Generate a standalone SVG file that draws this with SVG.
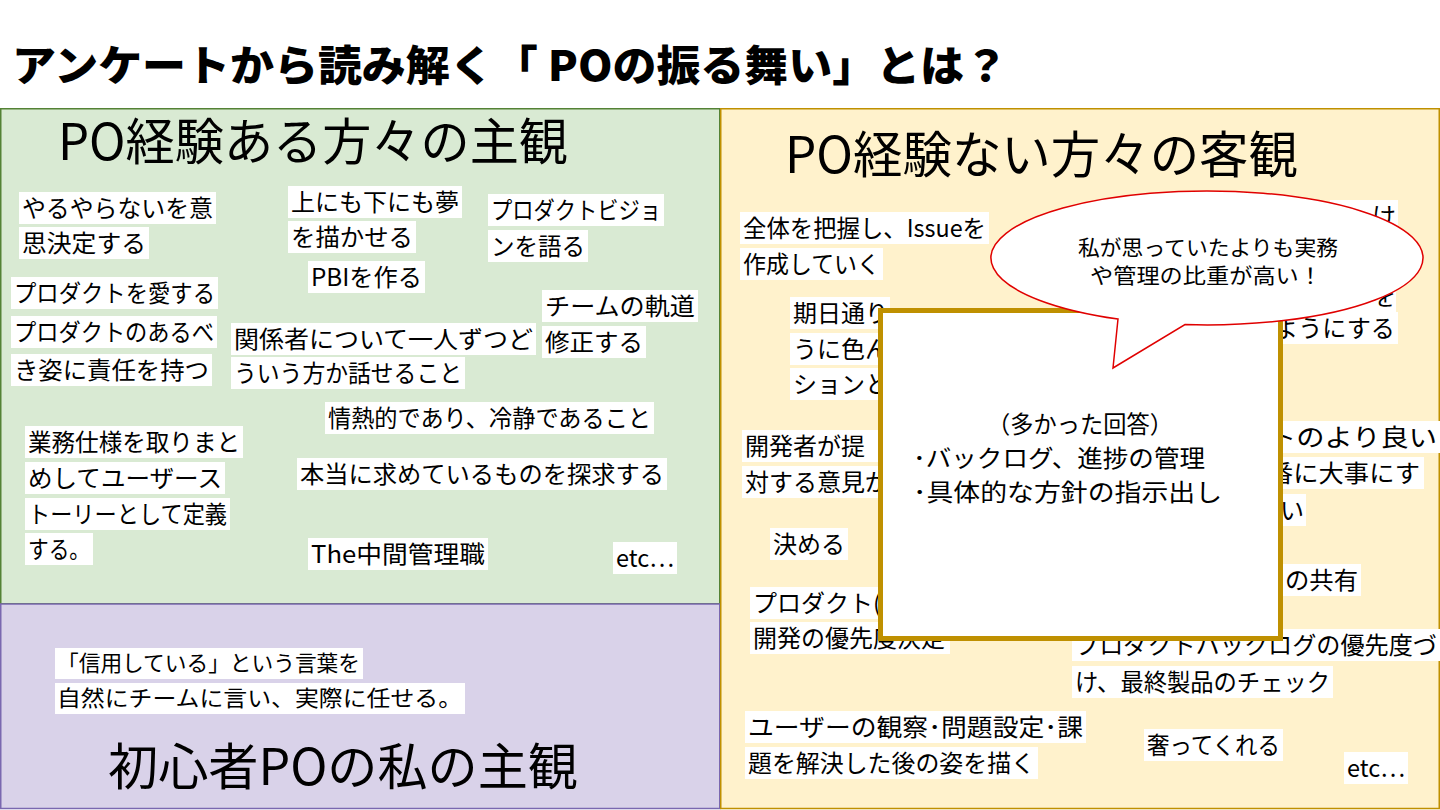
<svg xmlns="http://www.w3.org/2000/svg" width="1440" height="810" viewBox="0 0 1440 810">
<style>
.t{font-family:"Noto Sans CJK JP","Liberation Sans",sans-serif;font-size:24px;fill:#000}
.s{font-size:22px}
.h{font-family:"Noto Sans CJK JP","Liberation Sans",sans-serif;font-size:50px;fill:#000}
.hl{fill:#fff}
.bt{font-family:"Noto Sans CJK JP","Liberation Sans",sans-serif;font-size:24px;fill:#000}
.qt{font-family:"Noto Sans CJK JP","Liberation Sans",sans-serif;font-size:21px;fill:#000}
</style>
<rect x="0" y="0" width="1440" height="810" fill="#fff"/>
<g id="title">
<text x="12" y="81" font-family="Noto Sans CJK JP, Liberation Sans, sans-serif" font-size="42" font-weight="900" textLength="996" lengthAdjust="spacingAndGlyphs">アンケートから読み解く「 POの振る舞い」とは？</text>
</g>
<g id="panel-experienced">
<rect x="0.75" y="108.75" width="719" height="495" fill="#d9ead3" stroke="#548235" stroke-width="1.5"/>
<text class="h" x="58" y="160" textLength="510" lengthAdjust="spacingAndGlyphs">PO経験ある方々の主観</text>
</g>
<g id="panel-beginner">
<rect x="0.75" y="604" width="719" height="204.5" fill="#d9d2e9" stroke="#7a68b0" stroke-width="1.5"/>
<text class="h" x="108" y="785" textLength="470" lengthAdjust="spacingAndGlyphs">初心者POの私の主観</text>
</g>
<g id="panel-inexperienced">
<rect x="720.75" y="108.75" width="718.5" height="699.75" fill="#fff2cc" stroke="#bf9000" stroke-width="1.5"/>
<text class="h" x="785" y="173" textLength="513" lengthAdjust="spacingAndGlyphs">PO経験ない方々の客観</text>
</g>

<g id="left-items">
<g id="l1"><rect class="hl" x="19" y="192" width="197" height="32"/><rect class="hl" x="19" y="227" width="130" height="32"/>
<text class="t" x="22" y="217" textLength="191" lengthAdjust="spacingAndGlyphs">やるやらないを意</text>
<text class="t" x="22" y="252" textLength="124" lengthAdjust="spacingAndGlyphs">思決定する</text></g>
<g id="l2"><rect class="hl" x="288" y="186" width="174" height="32"/><rect class="hl" x="288" y="221" width="128" height="32"/>
<text class="t" x="291" y="211" textLength="168" lengthAdjust="spacingAndGlyphs">上にも下にも夢</text>
<text class="t" x="291" y="246" textLength="122" lengthAdjust="spacingAndGlyphs">を描かせる</text></g>
<g id="l3"><rect class="hl" x="488" y="194" width="176" height="32"/><rect class="hl" x="488" y="230" width="100" height="32"/>
<text class="t" x="491" y="219" textLength="170" lengthAdjust="spacingAndGlyphs">プロダクトビジョ</text>
<text class="t" x="491" y="255" textLength="94" lengthAdjust="spacingAndGlyphs">ンを語る</text></g>
<g id="l4"><rect class="hl" x="308" y="261" width="117" height="32"/>
<text class="t" x="311" y="286" textLength="111" lengthAdjust="spacingAndGlyphs">PBIを作る</text></g>
<g id="l5"><rect class="hl" x="11" y="277" width="207" height="32"/>
<text class="t" x="14" y="302" textLength="201" lengthAdjust="spacingAndGlyphs">プロダクトを愛する</text></g>
<g id="l6"><rect class="hl" x="542" y="290" width="156" height="32"/><rect class="hl" x="542" y="326" width="104" height="32"/>
<text class="t" x="545" y="315" textLength="150" lengthAdjust="spacingAndGlyphs">チームの軌道</text>
<text class="t" x="545" y="351" textLength="98" lengthAdjust="spacingAndGlyphs">修正する</text></g>
<g id="l7"><rect class="hl" x="11" y="316" width="206" height="32"/><rect class="hl" x="11" y="354" width="201" height="32"/>
<text class="t" x="14" y="341" textLength="200" lengthAdjust="spacingAndGlyphs">プロダクトのあるべ</text>
<text class="t" x="14" y="379" textLength="195" lengthAdjust="spacingAndGlyphs">き姿に責任を持つ</text></g>
<g id="l8"><rect class="hl" x="231" y="323" width="305" height="32"/><rect class="hl" x="231" y="357" width="234" height="32"/>
<text class="t" x="234" y="348" textLength="299" lengthAdjust="spacingAndGlyphs">関係者について一人ずつど</text>
<text class="t" x="234" y="382" textLength="228" lengthAdjust="spacingAndGlyphs">ういう方か話せること</text></g>
<g id="l9"><rect class="hl" x="325" y="402" width="329" height="32"/>
<text class="t" x="328" y="427" textLength="323" lengthAdjust="spacingAndGlyphs">情熱的であり、冷静であること</text></g>
<g id="l10"><rect class="hl" x="25" y="426" width="218" height="32"/><rect class="hl" x="25" y="462" width="200" height="32"/><rect class="hl" x="25" y="498" width="205" height="32"/><rect class="hl" x="25" y="533" width="68" height="32"/>
<text class="t" x="28" y="451" textLength="212" lengthAdjust="spacingAndGlyphs">業務仕様を取りまと</text>
<text class="t" x="28" y="487" textLength="194" lengthAdjust="spacingAndGlyphs">めしてユーザース</text>
<text class="t" x="28" y="523" textLength="199" lengthAdjust="spacingAndGlyphs">トーリーとして定義</text>
<text class="t" x="28" y="558" textLength="62" lengthAdjust="spacingAndGlyphs">する。</text></g>
<g id="l11"><rect class="hl" x="297" y="458" width="370" height="32"/>
<text class="t" x="300" y="483" textLength="364" lengthAdjust="spacingAndGlyphs">本当に求めているものを探求する</text></g>
<g id="l12"><rect class="hl" x="308" y="538" width="180" height="32"/>
<text class="t" x="311" y="563" textLength="174" lengthAdjust="spacingAndGlyphs">The中間管理職</text></g>
<g id="l13"><rect class="hl" x="613" y="542" width="64" height="32"/>
<text class="t" x="616" y="567" textLength="58" lengthAdjust="spacingAndGlyphs">etc…</text></g>
</g>

<g id="beginner-item">
<rect class="hl" x="55" y="648" width="308" height="31"/><rect class="hl" x="55" y="683" width="410" height="31"/>
<text class="t s" x="57" y="671" textLength="303" lengthAdjust="spacingAndGlyphs">「信用している」という言葉を</text>
<text class="t s" x="57" y="706" textLength="405" lengthAdjust="spacingAndGlyphs">自然にチームに言い、実際に任せる。</text>
</g>

<g id="right-items">
<g id="r1"><rect class="hl" x="740" y="212" width="249" height="32"/><rect class="hl" x="740" y="248" width="143" height="32"/>
<text class="t" x="743" y="237" textLength="243" lengthAdjust="spacingAndGlyphs">全体を把握し、Issueを</text>
<text class="t" x="743" y="273" textLength="137" lengthAdjust="spacingAndGlyphs">作成していく</text></g>
<g id="r2"><rect class="hl" x="790" y="297" width="100" height="32"/><rect class="hl" x="790" y="333" width="100" height="32"/><rect class="hl" x="790" y="368" width="100" height="32"/>
<text class="t" x="793" y="322">期日通り</text>
<text class="t" x="793" y="358">うに色ん</text>
<text class="t" x="793" y="393">ションと</text></g>
<g id="r3"><rect class="hl" x="742" y="430" width="140" height="32"/><rect class="hl" x="742" y="466" width="148" height="32"/>
<text class="t" x="745" y="455">開発者が提</text>
<text class="t" x="745" y="491">対する意見が</text></g>
<g id="r4"><rect class="hl" x="770" y="528" width="78" height="32"/>
<text class="t" x="773" y="553" textLength="72" lengthAdjust="spacingAndGlyphs">決める</text></g>
<g id="r5"><rect class="hl" x="750" y="587" width="150" height="32"/><rect class="hl" x="750" y="622" width="200" height="32"/>
<text class="t" x="753" y="612">プロダクト(</text>
<text class="t" x="753" y="647">開発の優先度決定</text></g>
<g id="r6"><rect class="hl" x="745" y="711" width="341" height="32"/><rect class="hl" x="745" y="747" width="293" height="32"/>
<text class="t" x="748" y="736" textLength="335" lengthAdjust="spacingAndGlyphs">ユーザーの観察･問題設定･課</text>
<text class="t" x="748" y="772" textLength="287" lengthAdjust="spacingAndGlyphs">題を解決した後の姿を描く</text></g>
<g id="r7"><rect class="hl" x="1144" y="729" width="139" height="32"/>
<text class="t" x="1147" y="754" textLength="133" lengthAdjust="spacingAndGlyphs">奢ってくれる</text></g>
<g id="r8"><rect class="hl" x="1344" y="752" width="64" height="32"/>
<text class="t" x="1347" y="777" textLength="58" lengthAdjust="spacingAndGlyphs">etc…</text></g>
<g id="r9"><rect class="hl" x="1072" y="629" width="368" height="32"/><rect class="hl" x="1072" y="666" width="261" height="32"/>
<text class="t" x="1075" y="654" textLength="362" lengthAdjust="spacingAndGlyphs">プロダクトバックログの優先度づ</text>
<text class="t" x="1075" y="691" textLength="255" lengthAdjust="spacingAndGlyphs">け、最終製品のチェック</text></g>
<g id="r10"><rect class="hl" x="1266" y="421" width="174" height="32"/><rect class="hl" x="1266" y="457" width="158" height="32"/><rect class="hl" x="1266" y="494" width="40" height="32"/>
<text class="t" x="1268" y="446" textLength="169" lengthAdjust="spacingAndGlyphs">トのより良い</text>
<text class="t" x="1268" y="482" textLength="152" lengthAdjust="spacingAndGlyphs">番に大事にす</text>
<text class="t" x="1280" y="519">い</text></g>
<g id="r11"><rect class="hl" x="1270" y="564" width="91" height="32"/>
<text class="t" x="1285" y="589" textLength="73" lengthAdjust="spacingAndGlyphs">の共有</text></g>
<g id="r12"><rect class="hl" x="1330" y="200" width="68" height="32"/><rect class="hl" x="1330" y="280" width="66" height="32"/><rect class="hl" x="1266" y="312" width="132" height="32"/>
<text class="t" x="1372" y="225">け</text>
<text class="t" x="1372" y="305">を</text>
<text class="t" x="1274" y="337" textLength="121" lengthAdjust="spacingAndGlyphs">ようにする</text></g>
</g>

<g id="summary-box">
<rect x="880.5" y="310.5" width="400" height="328" fill="#fff" stroke="#bf9000" stroke-width="5"/>
<text class="bt" x="1080" y="433" text-anchor="middle" textLength="186" lengthAdjust="spacingAndGlyphs">（多かった回答）</text>
<text class="bt" x="913" y="467" textLength="292" lengthAdjust="spacingAndGlyphs">･バックログ、進捗の管理</text>
<text class="bt" x="913" y="501" textLength="309" lengthAdjust="spacingAndGlyphs">･具体的な方針の指示出し</text>
</g>

<g id="speech-bubble">
<path d="M1118 319 A216 67 0 1 1 1185 324.6 L1113 368 Z" fill="#fff" stroke="#e00000" stroke-width="1.5" stroke-linejoin="miter"/>
<text class="qt" x="1208" y="255" text-anchor="middle" textLength="260" lengthAdjust="spacingAndGlyphs">私が思っていたよりも実務</text>
<text class="qt" x="1206" y="283" text-anchor="middle" textLength="232" lengthAdjust="spacingAndGlyphs">や管理の比重が高い！</text>
</g>
<g id="connectors"></g>
</svg>
